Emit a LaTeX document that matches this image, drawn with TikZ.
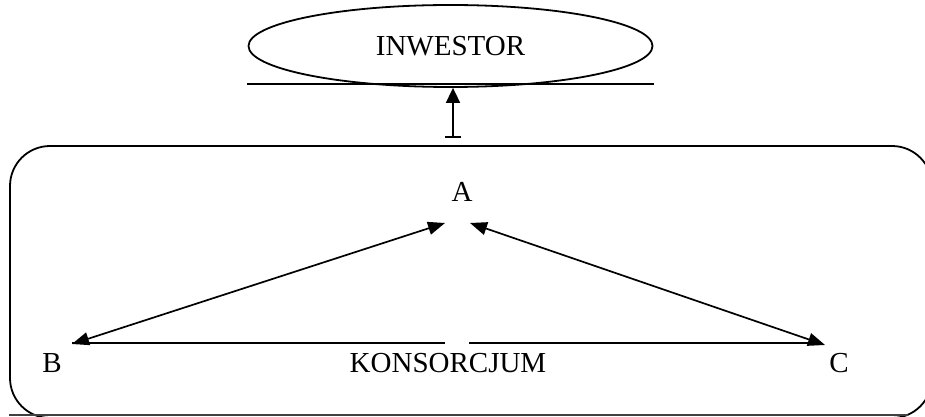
\documentclass[tikz,border=0pt]{standalone}
\usepackage{fontspec}
\setmainfont{Liberation Serif}
\usetikzlibrary{arrows.meta,positioning,shapes.geometric}

\begin{document}
\begin{tikzpicture}[
  x=1pt,y=-1pt,
  napis/.style={inner sep=0pt,font=\fontsize{29}{31}\selectfont},
  obrys/.style={line width=1.8pt},
  linia/.style={line width=1.5pt},
  strz/.style={{Triangle[length=17pt,width=13pt]}-{Triangle[length=17pt,width=13pt]},line width=1.7pt}
  ]
  \useasboundingbox (0,0) rectangle (925,417);
  % konsorcjum
  \draw[obrys,rounded corners=40pt] (10,146) rectangle (932,418);
  \draw[line width=2pt,black!75] (9,414.5) -- (908,414.5);
  % inwestor
  \node[napis,draw,obrys,ellipse,minimum width=404pt,minimum height=82pt] (inw) at (450.5,46) {INWESTOR};
  \draw[linia] (247,84) -- (654,84);
  \coordinate (dol) at (453,138);
  \draw[line width=1.7pt,{Bar[width=16pt]}-{Triangle[length=15pt,width=14pt]}] (dol) -- (dol |- inw.south);
  % uczestnicy
  \node[napis] (a) at (462,192) {A};
  \node[napis] (b) at (52,363) {B};
  \node[napis] (c) at (839,363) {C};
  \node[napis] (kons) at (448,363) {KONSORCJUM};
  \coordinate (aL) at (445,223);
  \coordinate (aR) at (470,223);
  \coordinate (bP) at (72,344);
  \coordinate (cP) at (825,345);
  \coordinate (przL) at (445,343);
  \coordinate (przR) at (469,343);
  \draw[strz] (aL) -- (bP);
  \draw[strz] (aR) -- (cP);
  \draw[linia] (bP |- przL) -- (przL);
  \draw[linia] (przR) -- (822,343);
\end{tikzpicture}
\end{document}
